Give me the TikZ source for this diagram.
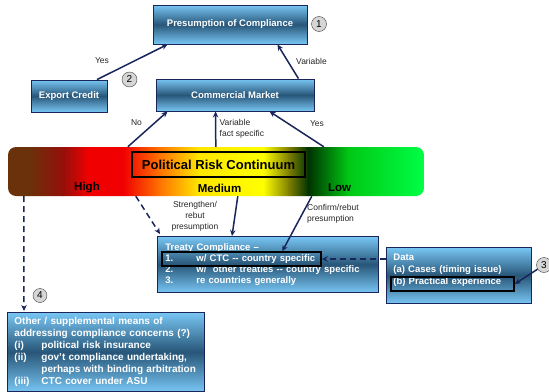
\documentclass[tikz,border=0pt]{standalone}
\usepackage{fontspec}
\setmainfont{Liberation Sans}
\usetikzlibrary{arrows.meta,positioning,calc}
\definecolor{navy}{RGB}{26,37,90}
\definecolor{boxlight}{RGB}{120,198,244}
\definecolor{boxdark}{RGB}{40,86,120}
\definecolor{circgrey}{RGB}{214,214,214}
\definecolor{rk0}{RGB}{105,50,10}
\definecolor{rk1}{RGB}{150,15,10}
\definecolor{rk2}{RGB}{240,0,0}
\definecolor{rk3}{RGB}{255,110,0}
\definecolor{rk4}{RGB}{255,230,0}
\definecolor{rk5}{RGB}{255,255,0}
\definecolor{rk6}{RGB}{130,130,0}
\definecolor{rk7}{RGB}{0,50,0}
\definecolor{rk8}{RGB}{0,200,20}
\definecolor{rk9}{RGB}{0,255,70}

\begin{document}
\begin{tikzpicture}[x=1pt, y=-1pt,
    blk/.style={rectangle, draw=navy, line width=0.9pt, top color=boxlight, bottom color=boxlight,
                middle color=boxdark, text=white, inner sep=0pt,
                font=\bfseries\fontsize{9.5}{11}\selectfont},
    hl/.style={rectangle, draw=black, line width=1.5pt, inner sep=0pt},
    circ/.style={circle, draw=black!75, fill=circgrey, inner sep=0pt, minimum size=15pt,
                 font=\fontsize{10}{12}\selectfont},
    lbl/.style={inner sep=0pt, font=\fontsize{8.5}{11}\selectfont, text=black!85},
    lvl/.style={inner sep=0pt, font=\bfseries\fontsize{11.5}{13}\selectfont},
    arr/.style={-{Stealth[length=6pt, width=5.5pt]}, line width=1.5pt, navy},
    darr/.style={arr, dash pattern=on 6pt off 4pt}
]
\useasboundingbox (0,0) rectangle (549,391);

% top row
\node[blk, minimum width=154pt, minimum height=39pt] (prc) at (230,24.5) {Presumption of Compliance};
\node[circ] (c1) at (319,24) {1};
\node[blk, minimum width=76pt, minimum height=32pt] (export) at (69,96) {Export Credit};
\node[circ] (c2) at (129.5,79.5) {2};
\node[blk, minimum width=158pt, minimum height=32pt] (market) at (235,95) {Commercial Market};

% risk continuum bar
\node[rounded corners=8pt, minimum width=416pt, minimum height=49pt, inner sep=0pt,
      path picture={
        \foreach \a/\b/\ca/\cb in {0/20/rk0/rk0, 20/55/rk0/rk1, 55/80/rk1/rk2, 80/115/rk2/rk2,
                                   115/150/rk2/rk3, 150/190/rk3/rk4, 190/255/rk4/rk5, 255/280/rk5/rk6,
                                   280/300/rk6/rk7, 300/340/rk7/rk8, 340/416/rk8/rk9}
          \shade[sharp corners, left color=\ca, right color=\cb]
            ([xshift=\a pt]path picture bounding box.south west) rectangle
            ([xshift=\b pt+0.6pt]path picture bounding box.north west);
      }] (risk) at (216,171.5) {};
\node[hl, line width=1.6pt, minimum width=173pt, minimum height=25pt,
      font=\bfseries\fontsize{13}{15}\selectfont] (prcbox) at (218.5,164.5) {Political Risk Continuum};
\node[lvl] (high) at (87,188) {High};
\node[lvl] (medium) at (219.5,188) {Medium};
\node[lvl] (low) at (339.5,188) {Low};

% lower boxes
\node[blk, anchor=north west, minimum height=56pt, text width=205pt, inner xsep=8pt, align=left]
      (treaty) at (157,236)
      {Treaty Compliance --\\
       \makebox[31pt][l]{1.}w/ CTC -{}- country specific\\
       \makebox[31pt][l]{2.}w/ \ other treaties -{}- country specific\\
       \makebox[31pt][l]{3.}re countries generally};
\node[hl, minimum width=159pt, minimum height=14pt] (hl1) at (241.5,259) {};

\node[blk, anchor=north west, minimum height=56pt, text width=131pt, inner xsep=7pt, align=left,
      font=\bfseries\fontsize{9.5}{12}\selectfont]
      (data) at (386,247)
      {Data\\(a) Cases (timing issue)\\(b) Practical experience\\\mbox{}};
\node[hl, minimum width=123pt, minimum height=14pt] (hl2) at (452.5,284) {};
\node[circ] (c3) at (544,265) {3};

\node[circ, minimum size=14pt] (c4) at (40,295.5) {4};
\node[blk, anchor=north west, text width=183pt, inner xsep=7pt, inner ysep=5pt, align=left,
      font=\bfseries\fontsize{10}{12}\selectfont]
      (other) at (7,312)
      {Other / supplemental means of\\
       addressing compliance concerns (?)\\
       \makebox[27pt][l]{(i)}political risk insurance\\
       \makebox[27pt][l]{(ii)}gov't compliance undertaking,\\
       \hspace*{27pt}perhaps with binding arbitration\\
       \makebox[27pt][l]{(iii)}CTC cover under ASU};

% connectors
\draw[arr] ([xshift=28pt]export.north) -- ([xshift=15pt]prc.south west);
\draw[arr] ([xshift=-16pt]market.north east) -- ([xshift=-30pt]prc.south east);
\draw[arr] ([xshift=120pt]risk.north west) -- ([xshift=12pt]market.south west);
\draw[arr] ([xshift=208pt]risk.north west) -- ([xshift=60pt]market.south west);
\draw[arr] ([xshift=316pt]risk.north west) -- ([xshift=114pt]market.south west);
\draw[darr] ([xshift=128pt]risk.south west) -- ([xshift=3pt, yshift=2pt]treaty.north west);
\draw[arr] ([xshift=230pt]risk.south west) -- ([xshift=75pt]treaty.north west);
\draw[arr] ([xshift=304pt]risk.south west) -- ([xshift=121pt]hl1.north west);
\draw[darr] (data.west |- hl1.east) -- (hl1.east);
\draw[arr] (c3) -- (hl2.east);
\draw[darr] ([xshift=16pt]risk.south west) -- ([xshift=17pt, yshift=1pt]other.north west);

% connector labels
\node[lbl] (yes1) at (102,61) {Yes};
\node[lbl] (var1) at (311.5,61.5) {Variable};
\node[lbl] (no1) at (136.5,123) {No};
\node[lbl, anchor=west, align=left] (var2) at (219.5,128.5) {Variable\\fact specific};
\node[lbl] (yes2) at (317,123.5) {Yes};
\node[lbl, align=center] (str) at (195,216) {Strengthen/\\rebut\\presumption};
\node[lbl, anchor=west, align=left] (conf) at (307,213.5) {Confirm/rebut\\presumption};
\end{tikzpicture}
\end{document}
